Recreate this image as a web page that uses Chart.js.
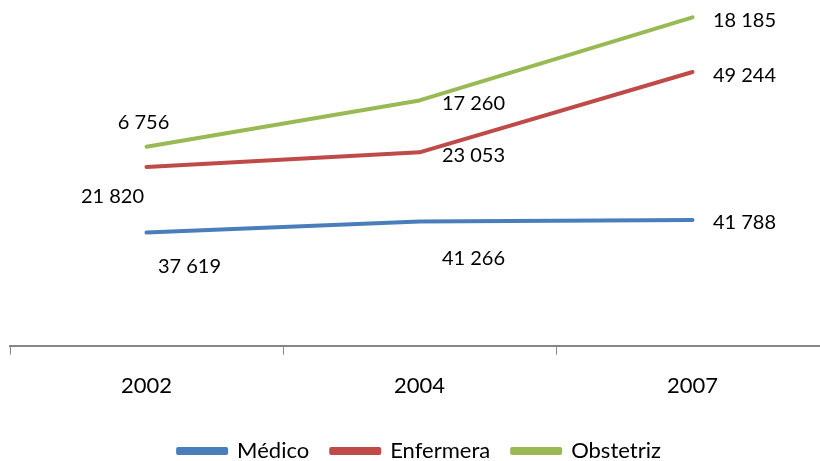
<!DOCTYPE html>
<html>
<head>
<meta charset="utf-8">
<script src="https://cdn.jsdelivr.net/npm/chart.js@4"></script>
<style>
  html, body { margin: 0; padding: 0; background: #fff; overflow: hidden; }
  #wrap { width: 829px; height: 461px; }
</style>
</head>
<body>
<div id="wrap"><canvas id="lineChart"></canvas></div>
<script>
var years = ['2002', '2004', '2007'];
var medico = [37619, 41266, 41788];
var enfermera = [21820, 23053, 49244];
var obstetriz = [6756, 17260, 18185];

// where each value label sits next to its point (dx, dy in px)
var labelShift = [
  [[43, 34], [54, 37], [52, 3]],
  [[-34, 30], [54, 3], [52, 4]],
  [[-3, -24], [54, 3], [52, 3]]
];

function fmt(v) {
  return String(v).replace(/\B(?=(\d{3})+(?!\d))/g, ' ');
}

var valueLabels = {
  id: 'valueLabels',
  afterDatasetsDraw: function(chart) {
    var ctx = chart.ctx;
    ctx.save();
    ctx.font = '20px Lato';
    ctx.fillStyle = '#000';
    ctx.textAlign = 'center';
    ctx.textBaseline = 'middle';
    chart.data.datasets.forEach(function(ds, i) {
      var meta = chart.getDatasetMeta(i);
      meta.data.forEach(function(pt, j) {
        var s = labelShift[i][j];
        ctx.fillText(fmt(ds.data[j]), pt.x + s[0], pt.y + s[1]);
      });
    });
    ctx.restore();
  }
};

var ctx = document.getElementById('lineChart').getContext('2d');
var lineChart = new Chart(ctx, {
  type: 'line',
  data: {
    labels: years,
    datasets: [{
      label: 'Médico',
      data: medico,
      borderColor: '#4A7EBB',
      backgroundColor: '#4A7EBB',
      borderWidth: 4,
      pointRadius: 0,
      fill: false
    }, {
      label: 'Enfermera',
      data: enfermera,
      borderColor: '#BE4B48',
      backgroundColor: '#BE4B48',
      borderWidth: 4,
      pointRadius: 0,
      fill: false
    }, {
      label: 'Obstetriz',
      data: obstetriz,
      borderColor: '#98B954',
      backgroundColor: '#98B954',
      borderWidth: 4,
      pointRadius: 0,
      fill: false
    }]
  },
  options: {
    responsive: true,
    maintainAspectRatio: false,
    animation: false,
    layout: { padding: { left: 10, right: 0, top: 0, bottom: -11 } },
    elements: { line: { borderCapStyle: 'round', borderJoinStyle: 'round', tension: 0 } },
    scales: {
      x: {
        offset: true,
        grid: { drawOnChartArea: false, color: '#868686', tickLength: 9, offset: true },
        border: { color: '#868686', width: 2 },
        ticks: { color: '#000', font: { family: 'Lato', size: 22 }, padding: 18 },
        afterFit: function(scale) { scale.height += 1; }
      },
      y: {
        display: false,
        stacked: true,
        min: 0,
        max: 115000
      }
    },
    plugins: {
      legend: {
        position: 'bottom',
        labels: {
          color: '#000',
          font: { family: 'Lato', size: 22 },
          boxWidth: 48,
          boxHeight: 4,
          padding: 22
        }
      },
      tooltip: { enabled: false }
    }
  },
  plugins: [valueLabels]
});
</script>
</body>
</html>
